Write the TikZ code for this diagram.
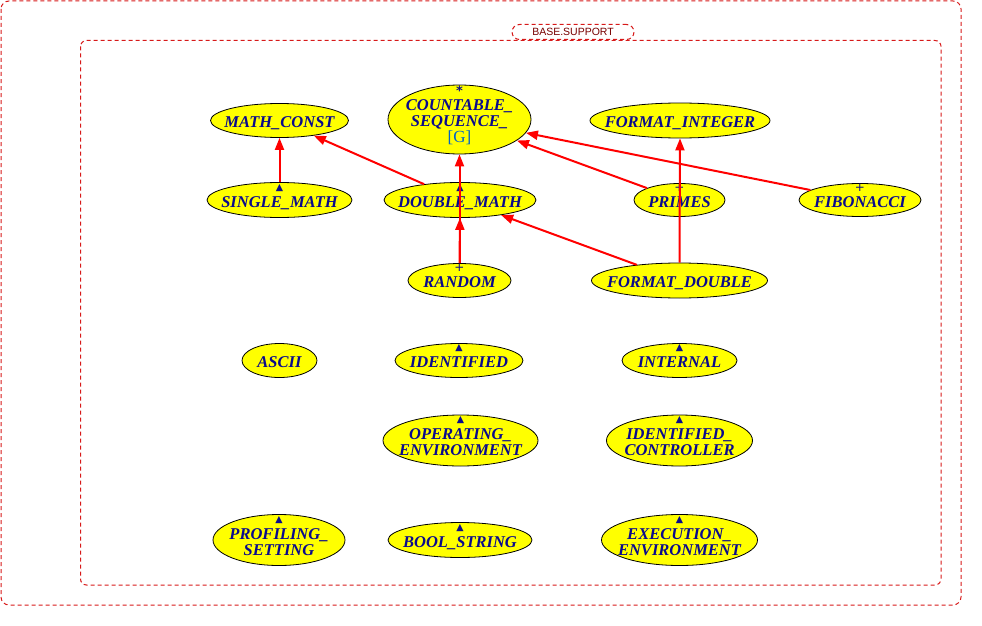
\documentclass[tikz,border=0pt]{standalone}
\usepackage{fontspec}
\setmainfont{Liberation Serif}
\newfontfamily\djv{DejaVu Sans}
\newfontfamily\lsans{Liberation Sans}
\usetikzlibrary{shapes.geometric,arrows.meta}
\definecolor{navy}{RGB}{10,10,140}
\definecolor{gblue}{RGB}{0,100,200}
\definecolor{framered}{RGB}{215,25,25}
\definecolor{darkred}{RGB}{120,0,0}
\definecolor{ellyellow}{RGB}{255,255,0}
\newcommand{\nmfont}{\fontsize{16.5}{16}\selectfont\bfseries\itshape}
\newcommand{\symfnt}{\djv\fontsize{9.5}{9.5}\selectfont}
\newcommand{\plusfnt}{\djv\fontsize{12}{12}\selectfont}
\newcommand{\starfnt}{\djv\bfseries\fontsize{13}{13}\selectfont}
\begin{document}
\begin{tikzpicture}[x=1pt,y=-1pt,
  ell/.style={ellipse, draw=black, line width=0.8pt, fill=ellyellow, inner sep=0pt},
  nm/.style={font=\nmfont, text=navy, inner sep=0pt, anchor=base},
  symb/.style={font=\symfnt, text=navy, inner sep=0pt},
  plus/.style={font=\plusfnt, text=navy, inner sep=0pt},
  frame/.style={draw=framered, line width=1pt, dash pattern=on 4pt off 3pt},
  edge/.style={draw=red, line width=2pt, -{Triangle[length=12pt,width=9pt]}}
]
\useasboundingbox (0,0) rectangle (982,626);
% frames
\draw[frame, rounded corners=8pt] (1,1) rectangle (961,605);
\draw[frame, rounded corners=6pt] (80.5,40.5) rectangle (941,585);
\node[frame, fill=white, rounded corners=7.5pt, minimum width=122pt, minimum height=15pt, inner sep=0pt,
      font=\lsans\fontsize{10.5}{11}\selectfont, text=darkred] (lbl) at (573,32) {BASE.SUPPORT\hspace{6pt}};
% ellipses
\node[ell, minimum width=138pt, minimum height=34pt] (mc) at (279.5,120.5) {};
\node[ell, minimum width=143pt, minimum height=69pt] (cs) at (459.5,119.5) {};
\node[ell, minimum width=180pt, minimum height=35pt] (fi) at (680,120.5) {};
\node[ell, minimum width=145pt, minimum height=35pt] (sm) at (279.5,200) {};
\node[ell, minimum width=152pt, minimum height=35pt] (dm) at (460,200) {};
\node[ell, minimum width=91pt,  minimum height=33pt] (pr) at (679.5,200) {};
\node[ell, minimum width=122pt, minimum height=33pt] (fb) at (860,200) {};
\node[ell, minimum width=103pt, minimum height=34pt] (rd) at (459.5,280.5) {};
\node[ell, minimum width=176pt, minimum height=35pt] (fd) at (679.5,280.5) {};
\node[ell, minimum width=75pt,  minimum height=34pt] (as) at (279.5,360.5) {};
\node[ell, minimum width=128pt, minimum height=34pt] (id) at (459,360.5) {};
\node[ell, minimum width=115pt, minimum height=34pt] (in) at (679.5,360.5) {};
\node[ell, minimum width=155pt, minimum height=51pt] (oe) at (460.5,440.5) {};
\node[ell, minimum width=146pt, minimum height=51pt] (ic) at (679.5,440.5) {};
\node[ell, minimum width=132pt, minimum height=51pt] (ps) at (279,540) {};
\node[ell, minimum width=144pt, minimum height=35pt] (bs) at (460,540) {};
\node[ell, minimum width=156pt, minimum height=51pt] (ee) at (679.5,540) {};
% texts
\node[nm] (t-mc) at (279.5,127) {MATH\_CONST};
\node[inner sep=0pt, anchor=base, text=navy, font=\fontsize{16}{15}\selectfont] (t-cs) at (459.5,95.5)
  {\renewcommand{\arraystretch}{1}\setlength{\tabcolsep}{0pt}%
   \begin{tabular}[t]{c}
   {\starfnt *}\\
   {\nmfont COUNTABLE\_}\\
   {\nmfont SEQUENCE\_}\\
   {\color{gblue}\fontsize{17}{15}\selectfont [G]}
   \end{tabular}};
\node[nm] (t-fi) at (680,127) {FORMAT\_INTEGER};
\node[symb] (s-sm) at (279.5,188) {▲};
\node[nm] (t-sm) at (279.5,207.5) {SINGLE\_MATH};
\node[symb] (s-dm) at (460,188) {▲};
\node[nm] (t-dm) at (460,207.5) {DOUBLE\_MATH};
\node[plus] (s-pr) at (679.5,188) {+};
\node[nm] (t-pr) at (679.5,207.5) {PRIMES};
\node[plus] (s-fb) at (860,188) {+};
\node[nm] (t-fb) at (860,207.5) {FIBONACCI};
\node[plus] (s-rd) at (459.5,268) {+};
\node[nm] (t-rd) at (459.5,287.5) {RANDOM};
\node[nm] (t-fd) at (679.5,287.5) {FORMAT\_DOUBLE};
\node[nm] (t-as) at (279.5,367.5) {ASCII};
\node[symb] (s-id) at (459,348) {▲};
\node[nm] (t-id) at (459,367.5) {IDENTIFIED};
\node[symb] (s-in) at (679.5,348) {▲};
\node[nm] (t-in) at (679.5,367.5) {INTERNAL};
\node[symb] (s-oe) at (460.5,420) {▲};
\node[nm] (t-oe1) at (460.5,439) {OPERATING\_};
\node[nm] (t-oe2) at (460.5,455) {ENVIRONMENT};
\node[symb] (s-ic) at (679.5,420) {▲};
\node[nm] (t-ic1) at (679.5,439) {IDENTIFIED\_};
\node[nm] (t-ic2) at (679.5,455) {CONTROLLER};
\node[symb] (s-ps) at (279,520) {▲};
\node[nm] (t-ps1) at (279,539) {PROFILING\_};
\node[nm] (t-ps2) at (279,555) {SETTING};
\node[symb] (s-bs) at (460,528) {▲};
\node[nm] (t-bs) at (460,547.5) {BOOL\_STRING};
\node[symb] (s-ee) at (679.5,520) {▲};
\node[nm] (t-ee1) at (679.5,539) {EXECUTION\_};
\node[nm] (t-ee2) at (679.5,555) {ENVIRONMENT};
% edges
\draw[edge] (sm.north) -- (mc.south);
\draw[edge] (dm) -- (mc);
\draw[edge] (rd.north) -- (cs.south);
\draw[edge] (rd.north) -- (dm.south);
\draw[edge] (pr) -- (cs);
\draw[edge] (fb) -- (cs);
\draw[edge] (fd) -- (dm);
\draw[edge] (fd.north) -- (fi.south);
\end{tikzpicture}
\end{document}
